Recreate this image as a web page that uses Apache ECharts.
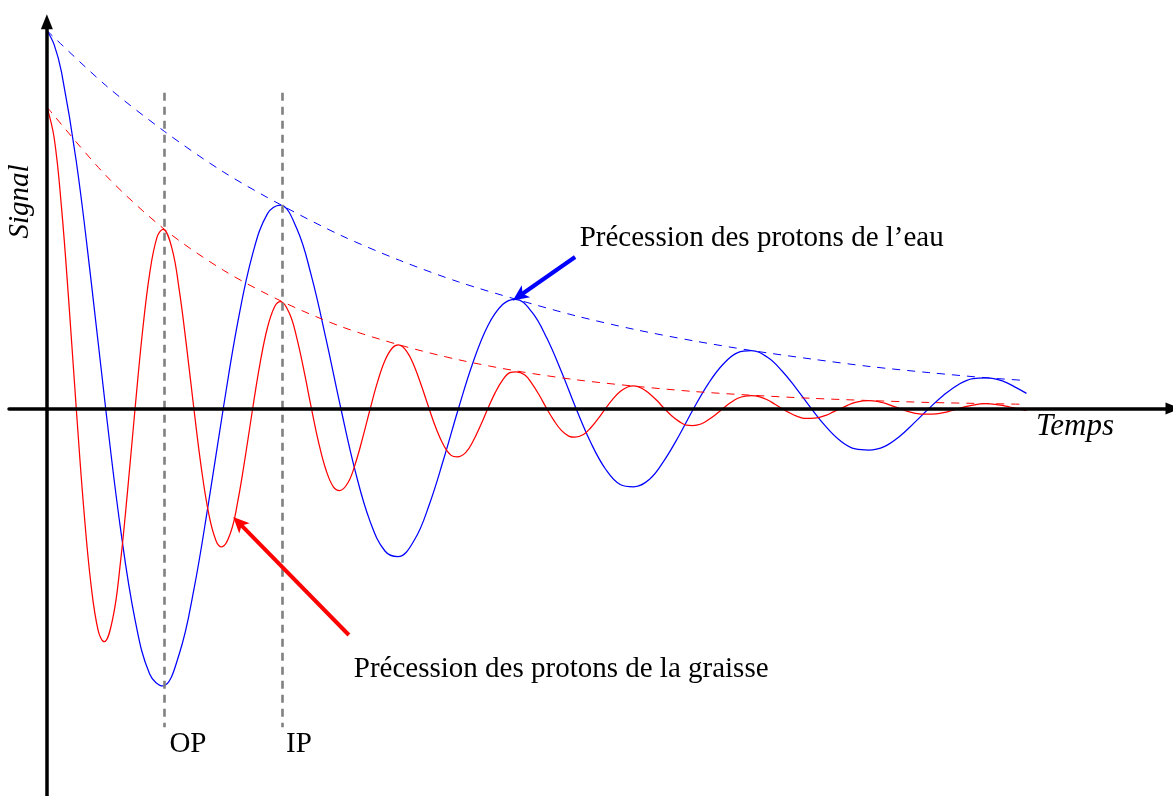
<!DOCTYPE html>
<html><head><meta charset="utf-8">
<script src="https://cdn.jsdelivr.net/npm/echarts@6/dist/echarts.min.js"></script>
<style>html,body{margin:0;padding:0;background:#fff}#c{width:1173px;height:796px}</style>
</head><body><div id="c"></div>
<script>
// Time axis (arbitrary units, OP = 1, IP = 2)
const waterT = [
  0,0.0625,0.125,0.25,0.375,0.5,0.625,0.75,0.875,
  0.985,1.125,1.25,1.375,1.5,1.625,1.75,1.875,
  1.983,2.125,2.25,2.375,2.5,2.625,2.75,2.875,
  2.985,3.125,3.25,3.375,3.5,3.625,3.75,3.875,
  3.985,4.125,4.25,4.375,4.5,4.625,4.75,4.875,
  4.988,5.125,5.25,5.375,5.5,5.625,5.75,5.875,
  5.99,6.125,6.25,6.375,6.5,6.625,6.75,6.875,
  6.99,7.125,7.25,7.375,7.5,7.625,7.75,7.875,
  7.99,8.125,8.25,8.33];
const waterSignal = [
  100,96.2,88.9,65.4,34.1,0,-31.5,-55.9,-70.3,
  -73.4,-65.0,-47.9,-24.9,0,23.1,40.9,51.5,
  53.8,47.6,35.0,18.2,0,-16.9,-30.0,-37.7,
  -39.2,-34.8,-25.6,-13.3,0,12.3,21.9,27.5,
  28.9,25.5,18.7,9.8,0,-9.0,-16.0,-20.1,
  -20.7,-18.7,-13.7,-7.2,0,6.6,11.7,14.8,
  15.3,13.6,10.0,5.2,0,-4.8,-8.6,-10.7,
  -11.0,-10.0,-7.4,-3.8,0,3.5,6.3,7.9,
  8.1,7.3,5.4,4.0];

const fatT = [
  0,0.0625,0.125,0.1875,0.25,0.3125,0.375,0.4375,0.487,0.5625,0.625,0.6875,0.75,0.8125,0.875,0.9375,
  0.987,1.0625,1.125,1.1875,1.25,1.3125,1.375,1.4375,1.487,1.5625,1.625,1.6875,1.75,1.8125,1.875,1.9375,
  1.987,2.0625,2.125,2.1875,2.25,2.3125,2.375,2.4375,2.49,2.5625,2.625,2.6875,2.75,2.8125,2.875,2.9375,
  2.99,3.0625,3.125,3.1875,3.25,3.3125,3.375,3.4375,3.49,3.5625,3.625,3.6875,3.75,3.8125,3.875,3.9375,
  3.99,4.0625,4.125,4.1875,4.25,4.3125,4.375,4.4375,4.49,4.5625,4.625,4.6875,4.75,4.8125,4.875,4.9375,
  4.99,5.0625,5.125,5.1875,5.25,5.3125,5.375,5.4375,5.49,5.5625,5.625,5.6875,5.75,5.8125,5.875,5.9375,
  5.99,6.0625,6.125,6.1875,6.25,6.3125,6.375,6.4375,6.49,6.5625,6.625,6.6875,6.75,6.8125,6.875,6.9375,
  6.99,7.0625,7.125,7.1875,7.25,7.3125,7.375,7.4375,7.49,7.5625,7.625,7.6875,7.75,7.8125,7.875,7.9375,
  7.99,8.0625,8.125,8.1875,8.25,8.3125,8.33];
const fatSignal = [
  79.8,71.5,53.0,27.8,0,-26.0,-46.5,-58.9,-61.7,-55.2,-40.9,-21.4,0,20.1,35.9,45.4,
  47.4,42.5,31.5,16.5,0,-15.5,-27.6,-34.9,-36.6,-32.8,-24.3,-12.7,0,11.9,21.3,27.0,
  28.3,25.2,18.7,9.8,0,-9.2,-16.4,-20.8,-21.7,-19.5,-14.4,-7.5,0,7.1,12.7,16.0,
  16.8,15.0,11.1,5.8,0,-5.5,-9.8,-12.4,-12.8,-11.6,-8.6,-4.5,0,4.2,7.5,9.5,
  9.7,8.9,6.6,3.5,0,-3.2,-5.8,-7.3,-7.6,-6.9,-5.1,-2.7,0,2.5,4.5,5.7,
  6.0,5.3,3.9,2.1,0,-1.9,-3.4,-4.4,-4.5,-4.1,-3.0,-1.6,0,1.5,2.7,3.3,
  3.4,3.1,2.3,1.2,0,-1.1,-2.0,-2.6,-2.6,-2.4,-1.8,-0.9,0,0.9,1.6,2.0,
  2.1,1.9,1.4,0.7,0,-0.7,-1.2,-1.5,-1.5,-1.4,-1.1,-0.6,0,0.5,0.9,1.2,
  1.3,1.1,0.8,0.4,0,-0.4,-0.5];

const envT = [0,0.5,1,1.5,2,2.5,3,3.5,4,4.5,5,5.5,6,6.5,7,7.5,8,8.33];
const waterEnv = [100,85.5,73.3,62.6,53.7,45.8,39.2,33.5,28.8,24.5,20.9,17.9,15.3,13.1,11.1,9.5,8.1,7.4];
const fatEnv = [79.8,61.7,47.4,36.6,28.3,21.7,16.8,12.9,9.9,7.6,5.9,4.5,3.5,2.7,2.1,1.6,1.3,1.1];

const echoTimes = [1, 2];
const echoLabels = ['OP', 'IP'];
const echoTop = 83.5, echoBottom = -84.3;

const waterLabel = 'Précession des protons de l’eau';
const fatLabel = 'Précession des protons de la graisse';
const waterArrow = {tail: [4.492, 40.08], tip: [3.962, 28.57]};
const fatArrow = {tail: [2.568, -59.92], tip: [1.585, -28.70]};

const X_MIN = -0.322, X_MAX = 9.576, Y_MIN = -102.51, Y_MAX = 102.3;
const FONT = '"Liberation Serif", "DejaVu Serif", serif';
const FS = 29;
const ARROW_W = 11, ARROW_H = 16;
const SMOOTH = 0.4;

const chart = echarts.init(document.getElementById('c'), null, {renderer: 'canvas'});
const zip = (a, b) => a.map((v, i) => [v, b[i]]);
const axisCommon = {
  type: 'value', z: 10,
  axisLine: {onZero: true, symbol: ['none', 'triangle'], symbolSize: [12, 15], lineStyle: {color: '#000', width: 3.5}},
  axisTick: {show: false}, axisLabel: {show: false}, splitLine: {show: false}
};
chart.setOption({
  animation: false,
  grid: {left: 9, right: -4, top: 21.8, bottom: 0},
  xAxis: Object.assign({}, axisCommon, {min: X_MIN, max: X_MAX}),
  yAxis: Object.assign({}, axisCommon, {min: Y_MIN, max: Y_MAX}),
  series: [
    {type: 'line', name: 'envEau', data: zip(envT, waterEnv), smooth: 0.3, symbol: 'none', silent: true, z: 2,
     lineStyle: {color: '#0000ff', width: 1, type: [8, 7]}},
    {type: 'line', name: 'envGraisse', data: zip(envT, fatEnv), smooth: 0.3, symbol: 'none', silent: true, z: 2,
     lineStyle: {color: '#ff0000', width: 1, type: [8, 7]}},
    {type: 'line', name: 'eau', data: zip(waterT, waterSignal), smooth: SMOOTH, symbol: 'none', silent: true, z: 3,
     lineStyle: {color: '#0000ff', width: 1.25}},
    {type: 'line', name: 'graisse', data: zip(fatT, fatSignal), smooth: SMOOTH, symbol: 'none', silent: true, z: 3,
     lineStyle: {color: '#ff0000', width: 1.25}}
  ]
});

const toPx = p => chart.convertToPixel({gridIndex: 0}, p);
const fromPx = p => chart.convertFromPixel({gridIndex: 0}, p);
function arrowData(arr) {
  const a = toPx(arr.tail), b = toPx(arr.tip);
  const dx = b[0] - a[0], dy = b[1] - a[1], L = Math.hypot(dx, dy);
  const end = fromPx([b[0] - dx / L * ARROW_H * 0.6, b[1] - dy / L * ARROW_H * 0.6]);
  return [[{coord: arr.tail}, {coord: end}]];
}
function arrowMark(arr, color) {
  return {silent: true, animation: false, symbol: ['none', 'arrow'], symbolSize: [ARROW_W, ARROW_H],
    symbolOffset: [0, [0, -ARROW_H * 0.6]],
    label: {show: false}, emphasis: {disabled: true},
    lineStyle: {color: color, width: 4, type: 'solid'}, data: arrowData(arr)};
}
function txt(text, pos, opts) {
  const p = toPx(pos);
  return Object.assign({type: 'text', x: p[0], y: p[1], z: 20, silent: true,
    style: Object.assign({text: text, font: FS + 'px ' + FONT, fill: '#000',
      align: 'left', verticalAlign: 'middle', textAlign: 'left', textVerticalAlign: 'middle'}, opts && opts.style)},
    opts && opts.el);
}
chart.setOption({
  series: [
    {name: 'envEau'},
    {name: 'envGraisse', z: 5, markLine: {silent: true, animation: false, symbol: ['none', 'none'],
      label: {show: false}, emphasis: {disabled: true},
      lineStyle: {color: '#808080', width: 2.6, type: [8, 6]},
      data: echoTimes.map(t => [{coord: [t, echoTop]}, {coord: [t, echoBottom]}])}},
    {name: 'eau', markLine: arrowMark(waterArrow, '#0000ff')},
    {name: 'graisse', markLine: arrowMark(fatArrow, '#ff0000')}
  ],
  graphic: [
    txt(waterLabel, [4.531, 45.0]),
    txt(fatLabel, [2.610, -69.1]),
    txt(echoLabels[0], [echoTimes[0] + 0.042, -88.9]),
    txt(echoLabels[1], [echoTimes[1] + 0.034, -88.9]),
    txt('Temps', [8.41, -4.9], {style: {font: 'italic 31px ' + FONT}}),
    txt('Signal', [-0.229, 54.76], {style: {font: 'italic ' + FS + 'px ' + FONT, align: 'center', textAlign: 'center'}, el: {rotation: Math.PI / 2}})
  ]
});
</script></body></html>
